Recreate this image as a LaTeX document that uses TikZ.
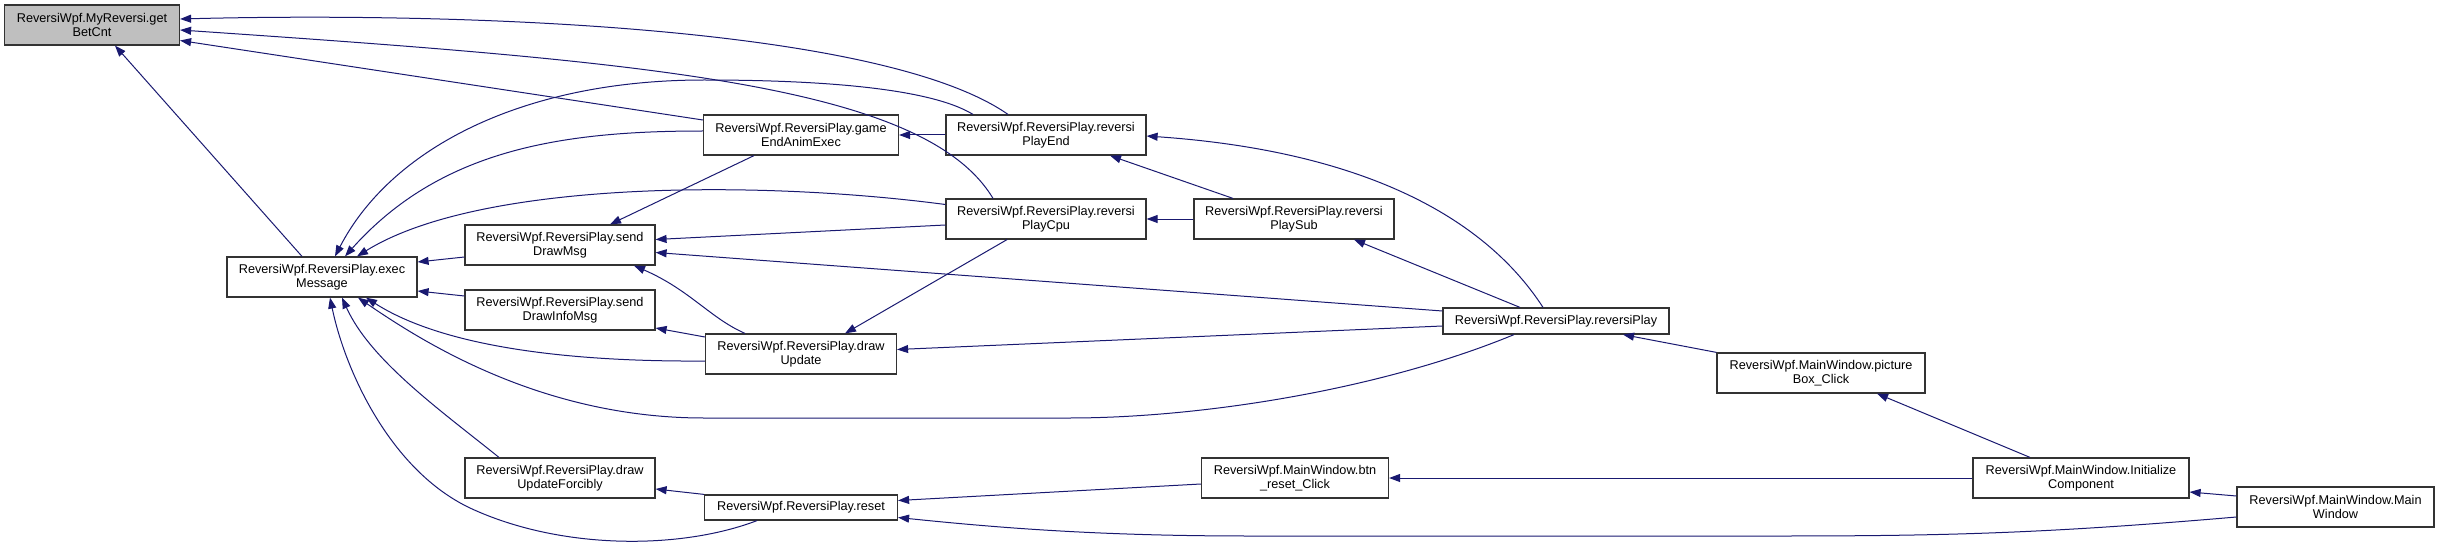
\documentclass[tikz,border=0pt]{standalone}
\usepackage{fontspec}
\setmainfont{Liberation Sans}
\usepackage{tikz}
\usetikzlibrary{arrows.meta,calc}
\definecolor{edgeblue}{HTML}{191970}
\definecolor{nodegrey}{HTML}{BFBFBF}

\begin{document}
\begin{tikzpicture}[x=1pt,y=-1pt,>={Triangle[length=11pt,width=8pt]},
  box/.style={draw=black!80,line width=1.2pt,fill=white,minimum height=40pt,inner sep=1pt,align=center,font=\fontsize{12.7}{14}\selectfont},
  arrow/.style={->,line width=1pt,color=edgeblue}]
\useasboundingbox (0,0) rectangle (2440,548);
\node[box,fill=nodegrey,minimum width=175pt] (betcnt) at (92,25) {ReversiWpf.MyReversi.get\\BetCnt};
\node[box,minimum width=190pt] (exec) at (322,277) {ReversiWpf.ReversiPlay.exec\\Message};
\node[box,minimum width=190pt] (sendmsg) at (560,245) {ReversiWpf.ReversiPlay.send\\DrawMsg};
\node[box,minimum width=190pt] (sendinfo) at (560,310) {ReversiWpf.ReversiPlay.send\\DrawInfoMsg};
\node[box,minimum width=190pt] (forcibly) at (560,478) {ReversiWpf.ReversiPlay.draw\\UpdateForcibly};
\node[box,minimum width=195pt] (gameend) at (801,135) {ReversiWpf.ReversiPlay.game\\EndAnimExec};
\node[box,minimum width=191pt] (update) at (801,354) {ReversiWpf.ReversiPlay.draw\\Update};
\node[box,minimum width=193pt,minimum height=25pt] (reset) at (801,507.5) {ReversiWpf.ReversiPlay.reset};
\node[box,minimum width=200pt] (playend) at (1046,135) {ReversiWpf.ReversiPlay.reversi\\PlayEnd};
\node[box,minimum width=200pt] (playcpu) at (1046,219) {ReversiWpf.ReversiPlay.reversi\\PlayCpu};
\node[box,minimum width=200pt] (playsub) at (1294,219) {ReversiWpf.ReversiPlay.reversi\\PlaySub};
\node[box,minimum width=226pt,minimum height=26pt] (play) at (1556,321) {ReversiWpf.ReversiPlay.reversiPlay};
\node[box,minimum width=187pt] (btnreset) at (1295,478) {ReversiWpf.MainWindow.btn\\\_reset\_Click};
\node[box,minimum width=208pt] (picbox) at (1821,373) {ReversiWpf.MainWindow.picture\\Box\_Click};
\node[box,minimum width=216pt] (initcomp) at (2081,478) {ReversiWpf.MainWindow.Initialize\\Component};
\node[box,minimum width=197pt] (mainwin) at (2335.5,507) {ReversiWpf.MainWindow.Main\\Window};
\draw[arrow] ($(exec.north)+(-20,0)$) -- ($(betcnt.south)+(23,0)$);
\draw[arrow] ($(gameend.west)+(0,-15)$) -- ($(betcnt.east)+(0,15.5)$);
\draw[arrow] ($(playend.north)+(-38,0)$) .. controls (880,25) and (450,12) .. ($(betcnt.east)+(0,-6)$);
\draw[arrow] ($(playcpu.north)+(-53,0)$) .. controls (925,85) and (650,62) .. ($(betcnt.east)+(0,5)$);
\draw[arrow] ($(playend.north)+(-73,0)$) .. controls (930,88) and (820,80) .. (704,80) .. controls (520,80) and (390,150) .. ($(exec.north)+(13,0)$);
\draw[arrow] ($(gameend.west)+(0,-4)$) .. controls (560,131) and (440,150) .. ($(exec.north)+(23,0)$);
\draw[arrow] ($(playcpu.west)+(0,-14.5)$) .. controls (760,180) and (480,180) .. ($(exec.north)+(35,0)$);
\draw[arrow] ($(sendmsg.west)+(0,12)$) -- ($(exec.east)+(0,-15)$);
\draw[arrow] ($(sendinfo.west)+(0,-14)$) -- ($(exec.east)+(0,14)$);
\draw[arrow] ($(update.west)+(0,7)$) .. controls (560,362) and (440,345) .. ($(exec.south)+(44,0)$);
\draw[arrow] ($(play.south)+(-42,0)$) .. controls (1380,390) and (1200,418) .. (1069,418) -- (704,418) .. controls (540,418) and (420,340) .. ($(exec.south)+(36,0)$);
\draw[arrow] ($(forcibly.north)+(-61,0)$) .. controls (440,410) and (370,360) .. ($(exec.south)+(20,0)$);
\draw[arrow] ($(reset.south)+(-44,0)$) .. controls (680,550) and (560,550) .. (470,508) .. controls (390,470) and (345,370) .. ($(exec.south)+(8,0)$);
\draw[arrow] ($(gameend.south)+(-47,0)$) -- ($(sendmsg.north)+(50,0)$);
\draw[arrow] ($(playcpu.west)+(0,6)$) -- ($(sendmsg.east)+(0,-5.5)$);
\draw[arrow] ($(play.west)+(0,-10)$) -- ($(sendmsg.east)+(0,7.5)$);
\draw[arrow] ($(update.north)+(-56,0)$) .. controls (710,318) and (690,290) .. ($(sendmsg.south)+(74,0)$);
\draw[arrow] ($(update.west)+(0,-17)$) -- ($(sendinfo.east)+(0,18)$);
\draw[arrow] (reset.north west) -- ($(forcibly.east)+(0,11)$);
\draw[arrow] (playend.west) -- (gameend.east);
\draw[arrow] ($(playcpu.south)+(-39,0)$) -- ($(update.north)+(44,0)$);
\draw[arrow] ($(play.west)+(0,5)$) -- ($(update.east)+(0,-4.5)$);
\draw[arrow] ($(btnreset.west)+(0,6)$) -- ($(reset.east)+(0,-7)$);
\draw[arrow] ($(mainwin.west)+(0,10)$) .. controls (2050,533) and (1950,536) .. (1780,536) -- (1250,536) .. controls (1100,536) and (1000,528) .. ($(reset.east)+(0,10)$);
\draw[arrow] ($(playsub.north)+(-61,0)$) -- ($(playend.south)+(64,0)$);
\draw[arrow] ($(play.north)+(-13,0)$) .. controls (1480,210) and (1350,150) .. ($(playend.east)+(0,1)$);
\draw[arrow] (playsub.west) -- (playcpu.east);
\draw[arrow] ($(play.north)+(-36,0)$) -- ($(playsub.south)+(60,0)$);
\draw[arrow] (picbox.north west) -- ($(play.south)+(67,0)$);
\draw[arrow] ($(initcomp.north)+(-51,0)$) -- ($(picbox.south)+(56,0)$);
\draw[arrow] (initcomp.west) -- (btnreset.east);
\draw[arrow] ($(mainwin.west)+(0,-11)$) -- ($(initcomp.east)+(0,14)$);
\end{tikzpicture}
\end{document}
